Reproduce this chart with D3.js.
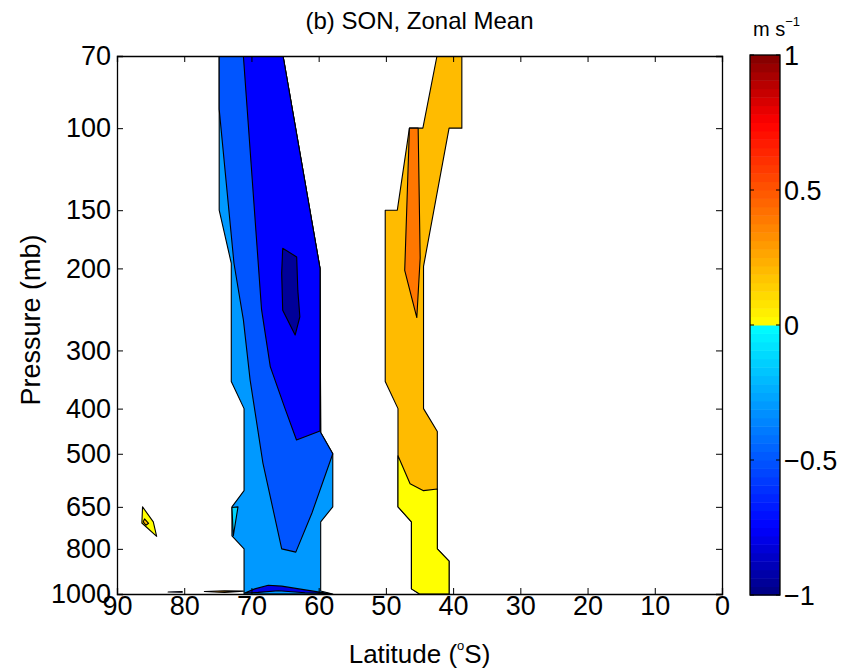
<!DOCTYPE html>
<html lang="en">
<head>
<meta charset="UTF-8">
<title>SON Zonal Mean</title>
<script src="https://d3js.org/d3.v7.min.js"></script>
<style>
  body { margin: 0; background: #fff; }
  text { font-family: "Liberation Sans", Arial, sans-serif; fill: #000; }
</style>
</head>
<body>
<script>
// axis ticks
const latTicks = [90, 80, 70, 60, 50, 40, 30, 20, 10, 0];
const pressureTicks = [70, 100, 150, 200, 300, 400, 500, 650, 800, 1000];
const cbarTicks = [-1, -0.5, 0, 0.5, 1];

// contour regions: [latitude (deg S), pressure (mb)]
const negOuter = [[74.8,70],[65.3,70],[59.8,200],[59.7,450],[57.9,500],[57.9,650],[59.7,700],
  [59.7,985],[57.9,1000],[71.1,1000],[71.1,800],[72.9,750],[72.9,650],[71.1,600],[71.1,400],
  [73.0,350],[73.0,195],[74.8,150]];
const negMid = [[74.8,70],[65.3,70],[59.8,200],[59.7,450],[57.9,500],[61.0,670],[63.4,813],
  [65.5,800],[68.3,523],[70.2,347],[71.2,258],[72.6,195],[74.8,91]];
const negInner = [[71.2,70],[65.3,70],[59.8,200],[59.8,447],[63.3,467],[65.0,400],[67.2,325],[68.5,245]];
const negCore = [[65.35,181],[63.27,189],[63.1,223],[62.8,254],[63.5,278],[65.35,246],[65.5,205]];
const negSliver = [[72.9,652],[72.0,650],[72.7,750]];
const negBottom = [[71,995],[69.5,975],[67.5,958],[65.5,962],[62,980],[58.5,998],[62,994],[66,984],[69,992]];

const posOuter = [[42.4,70],[38.7,70],[38.7,100],[40.6,100],[44.4,198],[44.4,400],[42.35,448],
  [42.35,800],[40.6,850],[40.6,1000],[45,1000],[46.2,975],[46.2,700],[48.2,650],[48.2,400],
  [50.1,350],[50.1,150],[48.3,150],[46.5,100],[44.5,100]];
const posLow = [[48.2,505],[46.4,580],[44.4,600],[42.35,595],[42.35,800],[40.6,850],[40.6,1000],
  [45,1000],[46.2,975],[46.2,700],[48.2,650]];
const posCore = [[46.5,100],[45.2,100],[44.9,190],[45.4,255],[47.2,202]];
const posDiamond = [[86.2,650],[84.6,700],[84.1,752],[86.3,704]];
const posDot = [[85.9,690],[85.3,705],[85.7,712],[86.1,700]];
const posBottom = [[77,988],[74,984],[71.2,986],[74,992]];
const blackBit = [[82.4,990],[80.3,988],[80.3,991]];

// draw order with the level each region is coloured by
const regions = [
  [negOuter, -0.3], [negMid, -0.5], [negInner, -0.75], [negCore, -0.95],
  [negSliver, -0.12], [negBottom, -0.8],
  [posOuter, 0.2], [posLow, 0.0], [posCore, 0.4],
  [posDiamond, 0.0], [posDot, 0.2], [posBottom, 0.3], [blackBit, -0.9]
];

const width = 852, height = 670;
const pLeft = 117, pRight = 722, pTop = 56, pBottom = 594;

const x = d3.scaleLinear().domain([90, 0]).range([pLeft, pRight]);
const y = d3.scaleLog().domain([70, 1000]).range([pTop, pBottom]);

// jet without the green part
const negCol = d3.scaleLinear().domain([-1, -0.75, 0]).range(["#000080", "#0000ff", "#00ffff"]);
const posCol = d3.scaleLinear().domain([0, 0.75, 1]).range(["#ffff00", "#ff0000", "#800000"]);
const colour = v => v < 0 ? negCol(v) : posCol(v);

const svg = d3.select("body").append("svg")
  .attr("width", width)
  .attr("height", height);

svg.append("clipPath").attr("id", "plot")
  .append("rect")
  .attr("x", pLeft).attr("y", pTop)
  .attr("width", pRight - pLeft).attr("height", pBottom - pTop);

const line = d3.line().x(d => x(d[0])).y(d => y(d[1]));

svg.append("g").attr("clip-path", "url(#plot)")
  .selectAll("path")
  .data(regions)
  .enter()
  .append("path")
  .attr("d", d => line(d[0]) + "Z")
  .attr("fill", d => colour(d[1]))
  .attr("stroke", "#000")
  .attr("stroke-width", 1.1)
  .attr("stroke-linejoin", "round");

// axes, ticks inside like matlab
const fs = "27px";
const xAxis = svg.append("g")
  .attr("transform", `translate(0,${pBottom})`)
  .call(d3.axisBottom(x).tickValues(latTicks).tickSize(-6).tickPadding(2));
svg.append("g")
  .attr("transform", `translate(0,${pTop})`)
  .call(d3.axisTop(x).tickValues(latTicks).tickSize(-6).tickFormat(""));
const yAxis = svg.append("g")
  .attr("transform", `translate(${pLeft},0)`)
  .call(d3.axisLeft(y).tickValues(pressureTicks).tickSize(-6).tickPadding(6).tickFormat(d3.format("d")));
svg.append("g")
  .attr("transform", `translate(${pRight},0)`)
  .call(d3.axisRight(y).tickValues(pressureTicks).tickSize(-6).tickFormat(""));

svg.selectAll(".domain").attr("stroke", "#000").attr("stroke-width", 1.3);
svg.selectAll(".tick line").attr("stroke", "#000");
xAxis.selectAll("text").attr("font-size", fs).attr("font-family", null);
yAxis.selectAll("text").attr("font-size", fs).attr("font-family", null);

// titles
svg.append("text")
  .attr("x", (pLeft + pRight) / 2).attr("y", 29)
  .attr("text-anchor", "middle")
  .attr("font-size", "24px")
  .text("(b) SON, Zonal Mean");

const xl = svg.append("text")
  .attr("x", (pLeft + pRight) / 2).attr("y", 663)
  .attr("text-anchor", "middle")
  .attr("font-size", "26px");
xl.append("tspan").text("Latitude (");
xl.append("tspan").attr("font-size", "13px").attr("dy", -13).text("o");
xl.append("tspan").attr("dy", 13).text("S)");

svg.append("text")
  .attr("transform", `translate(40,${(pTop + pBottom) / 2 - 5}) rotate(-90)`)
  .attr("text-anchor", "middle")
  .attr("font-size", "27px")
  .text("Pressure (mb)");

// colour bar
const cbLeft = 750, cbW = 30;
const cb = d3.scaleLinear().domain([-1, 1]).range([pBottom + 1, pTop - 1]);
const nBands = 64;
const bands = d3.range(nBands).map(i => -1 + (i + 0.5) * 2 / nBands);

svg.append("g").selectAll("rect")
  .data(bands)
  .enter()
  .append("rect")
  .attr("x", cbLeft)
  .attr("y", d => cb(d + 1 / nBands))
  .attr("width", cbW)
  .attr("height", d => cb(d - 1 / nBands) - cb(d + 1 / nBands) + 0.5)
  .attr("fill", d => colour(d));

svg.append("rect")
  .attr("x", cbLeft).attr("y", cb(1))
  .attr("width", cbW).attr("height", cb(-1) - cb(1))
  .attr("fill", "none").attr("stroke", "#000").attr("stroke-width", 1.3);

const cbt = svg.append("g").selectAll("g")
  .data(cbarTicks)
  .enter()
  .append("g");
cbt.append("line")
  .attr("x1", cbLeft).attr("x2", cbLeft + 4)
  .attr("y1", d => cb(d)).attr("y2", d => cb(d))
  .attr("stroke", "#000");
cbt.append("line")
  .attr("x1", cbLeft + cbW - 4).attr("x2", cbLeft + cbW)
  .attr("y1", d => cb(d)).attr("y2", d => cb(d))
  .attr("stroke", "#000");
cbt.append("text")
  .attr("x", cbLeft + cbW + 4)
  .attr("y", d => cb(d))
  .attr("dy", "0.36em")
  .attr("font-size", fs)
  .text(d => d3.format("")(d).replace("-", "\u2212"));

const unit = svg.append("text")
  .attr("x", 753).attr("y", 36)
  .attr("font-size", "20px");
unit.append("tspan").text("m s");
unit.append("tspan").attr("font-size", "13px").attr("dy", -10).text("\u22121");
</script>
</body>
</html>
